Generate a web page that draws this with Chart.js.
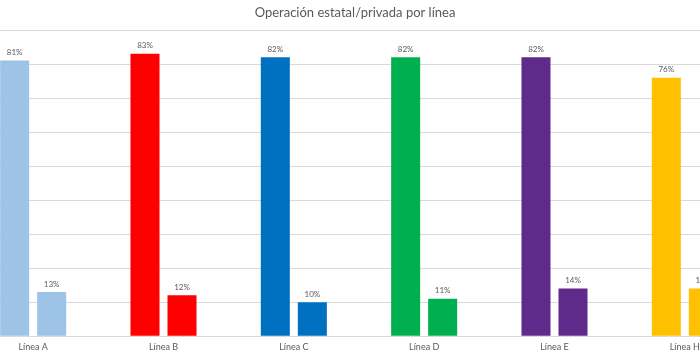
<!DOCTYPE html>
<html>
<head>
<meta charset="utf-8">
<script src="https://cdn.jsdelivr.net/npm/chart.js@4/dist/chart.umd.min.js"></script>
<style>
  html, body { margin: 0; padding: 0; background: #fff; overflow: hidden; width: 700px; height: 357px; }
  #wrap { position: absolute; left: -32px; top: 0; width: 782px; height: 357px; }
</style>
</head>
<body>
<div id="wrap"><canvas id="c"></canvas></div>
<script>
const title = "Operación estatal/privada por línea";
const categories = ["Línea A", "Línea B", "Línea C", "Línea D", "Línea E", "Línea H"];
const estatal = [81, 83, 82, 82, 82, 76];
const privada = [13, 12, 10, 11, 14, 14];
const barColors = ["#9DC3E6", "#FF0000", "#0070C0", "#00B050", "#5E2B8A", "#FFC000"];
const yMax = 90;
const yStep = 10;

const labelPlugin = {
  id: "barLabels",
  afterDatasetsDraw(chart) {
    const ctx = chart.ctx;
    ctx.save();
    ctx.font = "8px Lato";
    ctx.fillStyle = "#595959";
    ctx.textAlign = "center";
    ctx.textBaseline = "bottom";
    chart.data.datasets.forEach((ds, di) => {
      chart.getDatasetMeta(di).data.forEach((el, i) => {
        ctx.fillText(ds.data[i] + "%", el.x, el.y - 4);
      });
    });
    ctx.restore();
  }
};

const titlePlugin = {
  id: "customTitle",
  afterDraw(chart) {
    const ctx = chart.ctx;
    ctx.save();
    ctx.font = "13px Lato";
    ctx.fillStyle = "#595959";
    ctx.textAlign = "center";
    ctx.textBaseline = "middle";
    ctx.fillText(title, 355 + 32, 13);
    ctx.restore();
  }
};

new Chart(document.getElementById("c"), {
  type: "bar",
  data: {
    labels: categories,
    datasets: [
      { label: "Estatal", data: estatal, backgroundColor: barColors },
      { label: "Privada", data: privada, backgroundColor: barColors }
    ]
  },
  options: {
    responsive: true,
    maintainAspectRatio: false,
    animation: false,
    layout: { padding: { top: 30, left: 0, right: 0, bottom: 0 } },
    plugins: { legend: { display: false }, tooltip: { enabled: false }, title: { display: false } },
    datasets: { bar: { categoryPercentage: 0.568, barPercentage: 0.784 } },
    scales: {
      x: {
        grid: { display: false, drawTicks: false },
        border: { display: true, color: "#D9D9D9" },
        ticks: { color: "#595959", font: { family: "Lato", size: 9 }, padding: 5, maxRotation: 0 }
      },
      y: {
        min: 0, max: yMax,
        ticks: { display: false, stepSize: yStep },
        grid: { color: "#D9D9D9", drawTicks: false },
        border: { display: false }
      }
    }
  },
  plugins: [labelPlugin, titlePlugin]
});
</script>
</body>
</html>
